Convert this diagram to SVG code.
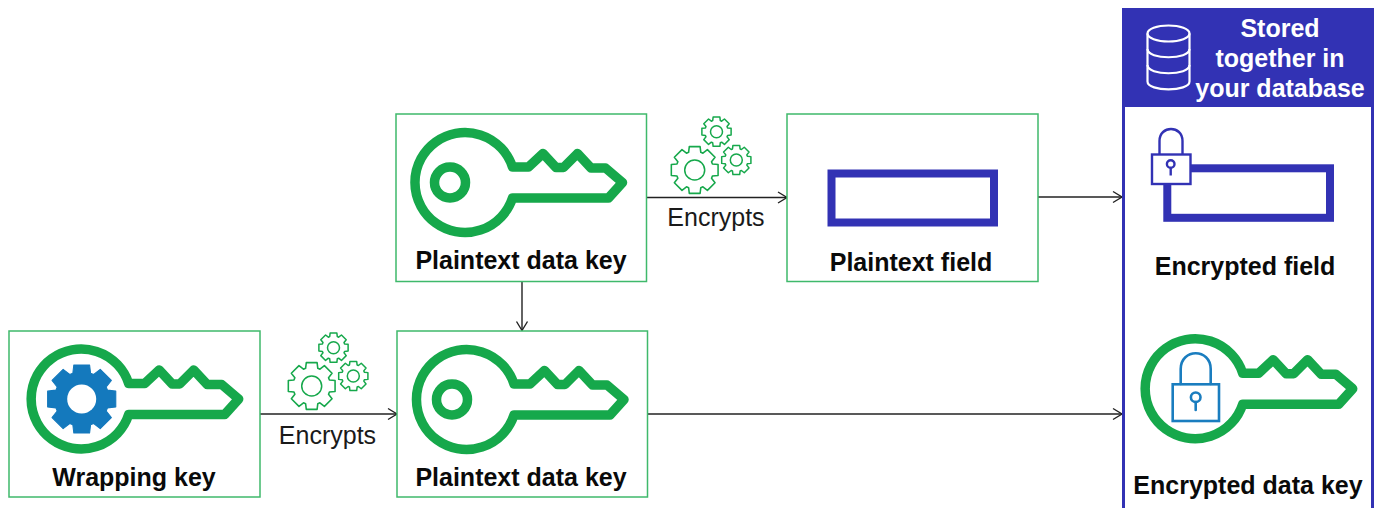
<svg xmlns="http://www.w3.org/2000/svg" width="1379" height="508" viewBox="0 0 1379 508">
<style>
text{font-family:"Liberation Sans",Arial,sans-serif;fill:#0a0a0a}
.lbl{font-weight:700;font-size:25px;text-anchor:middle}
.enc{font-size:25px;text-anchor:middle;fill:#1a1a1a}
.hdr{font-weight:700;font-size:25px;text-anchor:middle;fill:#fff}
.box{fill:#fff;stroke:#3fb96b;stroke-width:1.5}
.key{fill:none;stroke:#16a84b;stroke-width:9.5;stroke-linejoin:round;stroke-linecap:round}
.gl{fill:none;stroke:#16a84b;stroke-linejoin:round;stroke-width:6.5}
.gs{fill:none;stroke:#16a84b;stroke-linejoin:round;stroke-width:10}
.hole{fill:none;stroke:#16a84b;stroke-width:1.5}
.conn{fill:none;stroke:#222;stroke-width:1.4;marker-end:url(#arrow)}
.ind{fill:none;stroke:#3232b4}
.blu{fill:none;stroke:#1a7dbf;stroke-width:2.6;stroke-linecap:round}
.wht{fill:none;stroke:#fff;stroke-width:2.2}
</style>
<defs>
<marker id="arrow" markerUnits="userSpaceOnUse" markerWidth="12" markerHeight="14" refX="10" refY="6" orient="auto" overflow="visible">
<path d="M1,0.5 L10,6 L1,11.5" fill="none" stroke="#222" stroke-width="1.4"/>
</marker>
<path id="keyshape" d="M47,15.5 L143,15.5 L157,0 L140,-14.5 L125.5,-14.5 L112,-29 L98,-15 L90.500,-15 L77.5,-29 L63,-15.5 L47,-15.5 A50,50 0 1 0 47,15.5 Z"/>
<polygon id="gear" points="-25.4,-73.7 -22.5,-97.4 22.5,-97.4 25.4,-73.7 34.2,-70.1 53,-84.8 84.8,-53 70.1,-34.2 73.7,-25.4 97.4,-22.5 97.4,22.5 73.7,25.4 70.1,34.2 84.8,53 53,84.8 34.2,70.1 25.4,73.7 22.5,97.4 -22.5,97.4 -25.4,73.7 -34.2,70.1 -53,84.8 -84.8,53 -70.1,34.2 -73.7,25.4 -97.4,22.5 -97.4,-22.5 -73.7,-25.4 -70.1,-34.2 -84.8,-53 -53,-84.8 -34.2,-70.1"/>
<g id="gears">
<use href="#gear" class="gl" transform="translate(311.7,386) scale(.24)"/>
<circle class="hole" cx="311.7" cy="386" r="10"/>
<use href="#gear" class="gs" transform="translate(333.5,347.7) scale(.15)"/>
<circle class="hole" cx="333.5" cy="347.7" r="6"/>
<use href="#gear" class="gs" transform="translate(353.3,376) scale(.15)"/>
<circle class="hole" cx="353.3" cy="376" r="6"/>
</g>
</defs>
<rect width="1379" height="508" fill="#fff"/>

<g id="connectors">
<path class="conn" d="M260,414 H397"/>
<path class="conn" d="M646,197.5 H787"/>
<path class="conn" d="M1038,197 H1122"/>
<path class="conn" d="M522,282 V330.5"/>
<path class="conn" d="M648,414 H1122"/>
</g>

<g id="wrapping-key">
<rect class="box" x="9" y="331" width="251" height="166"/>
<use href="#keyshape" class="key" transform="translate(81.7,399)"/>
<use href="#gear" fill="#1479bd" stroke="#1479bd" stroke-width="3" stroke-linejoin="round" transform="translate(81.7,399) scale(.35)"/>
<circle cx="81.7" cy="399" r="14.5" fill="#fff"/>
<text class="lbl" x="134" y="486">Wrapping key</text>
</g>

<g id="encrypts-wrap">
<use href="#gears"/>
<text class="enc" x="327.5" y="443.500">Encrypts</text>
</g>

<g id="plaintext-data-key-top">
<rect class="box" x="396" y="114" width="250.500" height="167.500"/>
<use href="#keyshape" class="key" transform="translate(465.500,182.500)"/>
<circle cx="450" cy="182.500" r="15.500" fill="none" stroke="#16a84b" stroke-width="9.500"/>
<text class="lbl" x="521" y="269">Plaintext data key</text>
</g>

<g id="encrypts-field">
<use href="#gears" transform="translate(383,-216)"/>
<text class="enc" x="716" y="225.500">Encrypts</text>
</g>

<g id="plaintext-field">
<rect class="box" x="787" y="114" width="251" height="167.500"/>
<rect class="ind" x="831.500" y="173.500" width="162.500" height="49" stroke-width="8"/>
<text class="lbl" x="911" y="271">Plaintext field</text>
</g>

<g id="plaintext-data-key-bottom">
<rect class="box" x="397" y="331" width="250.500" height="166"/>
<use href="#keyshape" class="key" transform="translate(467,399.500)"/>
<circle cx="452" cy="399.500" r="15.500" fill="none" stroke="#16a84b" stroke-width="9.500"/>
<text class="lbl" x="521" y="486">Plaintext data key</text>
</g>

<g id="database-panel">
<rect x="1123.500" y="9.500" width="249" height="510" fill="#fff" stroke="#3232b4" stroke-width="3"/>
<rect x="1122" y="8" width="252" height="99" fill="#3232b4"/>
<g id="db-icon">
<path class="wht" d="M1147.500,33.500 V81.500 C1147.500,92 1189.500,92 1189.500,81.500 V33.500"/>
<ellipse class="wht" cx="1168.500" cy="33.500" rx="21" ry="8"/>
<path class="wht" d="M1147.500,49 C1147.500,60 1189.500,60 1189.500,49"/>
<path class="wht" d="M1147.500,65 C1147.500,76 1189.500,76 1189.500,65"/>
</g>
<text class="hdr" x="1280" y="37">Stored</text>
<text class="hdr" x="1280" y="66.500">together in</text>
<text class="hdr" x="1280" y="96.500">your database</text>
</g>

<g id="encrypted-field">
<rect class="ind" x="1167.300" y="168.300" width="162.700" height="49.500" stroke-width="8"/>
<path class="ind" stroke-width="2.400" d="M1159.500,154 V141 C1159.500,125 1182.500,125 1182.500,141 V154"/>
<rect x="1152" y="154.500" width="38.500" height="29.500" fill="#fff" stroke="#3232b4" stroke-width="2.400"/>
<circle class="ind" stroke-width="2.400" cx="1170.700" cy="164" r="3.800"/>
<path class="ind" stroke-width="2.400" d="M1170.700,168 V175.500"/>
<text class="lbl" x="1245" y="275">Encrypted field</text>
</g>

<g id="encrypted-data-key">
<use href="#keyshape" class="key" transform="translate(1195.700,388.700)"/>
<path class="blu" d="M1180.700,384 V369 C1180.700,348 1210.700,348 1210.700,369 V384"/>
<rect class="blu" x="1172.700" y="384.300" width="46.300" height="36.700"/>
<circle class="blu" cx="1195.700" cy="397.300" r="4.800"/>
<path class="blu" d="M1195.700,402 V410"/>
<text class="lbl" x="1248" y="494">Encrypted data key</text>
</g>
</svg>
